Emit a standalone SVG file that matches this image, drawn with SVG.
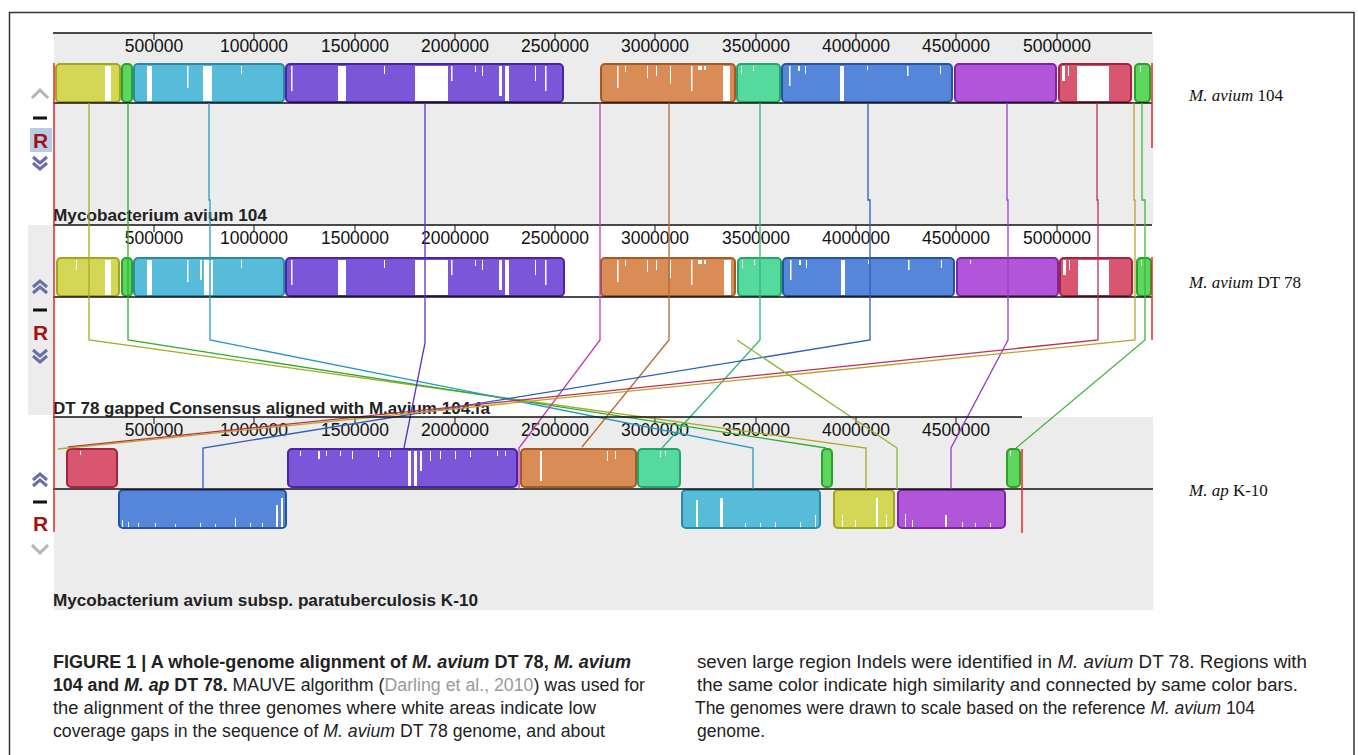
<svg xmlns="http://www.w3.org/2000/svg" width="1358" height="755" viewBox="0 0 1358 755">
<style>
.frame{fill:none;stroke:#333;stroke-width:1.5}
.bg{fill:#ececec}
.axis{stroke:#111;stroke-width:1.5;fill:none}
.tick{stroke:#111;stroke-width:1}
.num{font-family:"Liberation Sans",Arial,sans-serif;font-size:17.5px;fill:#111;text-anchor:middle}
.plabel{font-family:"Liberation Sans",Arial,sans-serif;font-size:17px;font-weight:bold;fill:#222}
.glabel{font-family:"Liberation Serif","Times New Roman",serif;font-size:17px;fill:#111}
.cap{font-family:"Liberation Sans",Arial,sans-serif;font-size:17.5px;fill:#222}
.b{font-weight:bold}
.i{font-style:italic}
.blk{stroke-width:2}
.yel{fill:#d4d656;stroke:#a3a51f}
.grn{fill:#5cd65c;stroke:#27a327}
.cya{fill:#56bcd9;stroke:#2a8aa6}
.pur{fill:#7b56d9;stroke:#4a23a6}
.ora{fill:#d98c56;stroke:#a65a23}
.min{fill:#56d99c;stroke:#23a66a}
.blu{fill:#5686d9;stroke:#2354a6}
.mag{fill:#b256d9;stroke:#8023a6}
.red{fill:#d95670;stroke:#a6233d}
.gap{fill:#fff}
.con{fill:none;stroke-width:1.3}
.redline{stroke:#e8262a;stroke-width:1.5}
.chev{fill:none;stroke-width:3;stroke-linejoin:miter}
.minus{stroke:#111;stroke-width:3}
.R{font-family:"Liberation Sans",Arial,sans-serif;font-size:21px;font-weight:bold;fill:#a01414}
</style>

<!-- frame -->
<path class="frame" d="M9.5,756 V12.5 H1354 V756"/>

<!-- backgrounds -->
<rect class="bg" x="54" y="33" width="1099" height="192"/>
<rect class="bg" x="28" y="225" width="26" height="190"/>
<rect class="bg" x="54" y="417" width="1099" height="193"/>

<!-- Panel 1 -->
<g id="panel1">
  <line class="axis" x1="53" y1="33" x2="1152" y2="33"/>
  <g class="tick">
    <line x1="154" y1="33" x2="154" y2="40"/><line x1="254" y1="33" x2="254" y2="40"/><line x1="355" y1="33" x2="355" y2="40"/><line x1="455" y1="33" x2="455" y2="40"/><line x1="555" y1="33" x2="555" y2="40"/><line x1="655" y1="33" x2="655" y2="40"/><line x1="756" y1="33" x2="756" y2="40"/><line x1="856" y1="33" x2="856" y2="40"/><line x1="956" y1="33" x2="956" y2="40"/><line x1="1057" y1="33" x2="1057" y2="40"/>
  </g>
  <g class="num">
    <text x="154" y="52">500000</text><text x="254" y="52">1000000</text><text x="355" y="52">1500000</text><text x="455" y="52">2000000</text><text x="555" y="52">2500000</text><text x="655" y="52">3000000</text><text x="756" y="52">3500000</text><text x="856" y="52">4000000</text><text x="956" y="52">4500000</text><text x="1057" y="52">5000000</text>
  </g>
  <g id="p1-blocks">
    <rect class="blk yel" x="56" y="64" width="64" height="38" rx="4"/>
    <rect class="blk grn" x="122" y="64" width="10" height="38" rx="4"/>
    <rect class="blk cya" x="134" y="64" width="150" height="38" rx="4"/>
    <rect class="blk pur" x="286" y="64" width="277" height="38" rx="4"/>
    <rect class="blk ora" x="601" y="64" width="134" height="38" rx="4"/>
    <rect class="blk min" x="737" y="64" width="43" height="38" rx="4"/>
    <rect class="blk blu" x="782" y="64" width="170" height="38" rx="4"/>
    <rect class="blk mag" x="955" y="64" width="101" height="38" rx="4"/>
    <rect class="blk red" x="1059" y="64" width="72" height="38" rx="4"/>
    <rect class="blk grn" x="1135" y="64" width="15" height="38" rx="4"/>
  </g>
  <g id="p1-gaps" class="gap">
    <rect x="105" y="66" width="6" height="35"/>
    <rect x="147" y="66" width="5" height="35"/><rect x="187" y="66" width="1.5" height="22"/><rect x="203" y="66" width="9" height="35"/><rect x="241" y="66" width="1" height="8"/>
    <rect x="291" y="66" width="1.5" height="25"/><rect x="338" y="66" width="8" height="35"/><rect x="384" y="66" width="1" height="8"/><rect x="415" y="66" width="33" height="35"/><rect x="451" y="66" width="1.5" height="15"/><rect x="475" y="66" width="1" height="6"/><rect x="482" y="66" width="1" height="10"/><rect x="499" y="66" width="3" height="30"/><rect x="505" y="66" width="4" height="35"/><rect x="535" y="66" width="1" height="15"/><rect x="545" y="66" width="1.5" height="25"/>
    <rect x="617" y="66" width="1.5" height="22"/><rect x="625" y="66" width="1" height="6"/><rect x="647" y="66" width="1" height="12"/><rect x="656" y="66" width="1" height="10"/><rect x="670" y="66" width="1" height="18"/><rect x="691" y="66" width="1.5" height="25"/><rect x="698" y="66" width="4" height="4"/><rect x="704" y="66" width="2" height="4"/><rect x="723" y="66" width="7" height="35"/>
    <rect x="741" y="66" width="1" height="8"/><rect x="753" y="66" width="1" height="5"/>
    <rect x="789" y="66" width="1.5" height="20"/><rect x="798" y="66" width="2" height="5"/><rect x="805" y="66" width="1" height="8"/><rect x="840" y="66" width="4" height="35"/><rect x="867" y="66" width="1" height="4"/><rect x="907" y="66" width="1.5" height="10"/><rect x="940" y="66" width="1" height="8"/>
    <rect x="1062" y="66" width="3" height="15"/><rect x="1068" y="66" width="1" height="10"/><rect x="1077" y="66" width="4" height="35"/><rect x="1081" y="66" width="28" height="35"/>
    <rect x="1140" y="66" width="1" height="6"/>
  </g>
  <line class="axis" x1="53" y1="103" x2="1152" y2="103"/>
  <text class="plabel" x="53" y="221" textLength="214" lengthAdjust="spacingAndGlyphs">Mycobacterium avium 104</text>
</g>

<!-- Panel 2 -->
<g id="panel2">
  <line class="axis" x1="53" y1="225" x2="1152" y2="225"/>
  <g class="tick">
    <line x1="154" y1="225" x2="154" y2="232"/><line x1="254" y1="225" x2="254" y2="232"/><line x1="355" y1="225" x2="355" y2="232"/><line x1="455" y1="225" x2="455" y2="232"/><line x1="555" y1="225" x2="555" y2="232"/><line x1="655" y1="225" x2="655" y2="232"/><line x1="756" y1="225" x2="756" y2="232"/><line x1="856" y1="225" x2="856" y2="232"/><line x1="956" y1="225" x2="956" y2="232"/><line x1="1057" y1="225" x2="1057" y2="232"/>
  </g>
  <g class="num">
    <text x="154" y="244">500000</text><text x="254" y="244">1000000</text><text x="355" y="244">1500000</text><text x="455" y="244">2000000</text><text x="555" y="244">2500000</text><text x="655" y="244">3000000</text><text x="756" y="244">3500000</text><text x="856" y="244">4000000</text><text x="956" y="244">4500000</text><text x="1057" y="244">5000000</text>
  </g>
  <g id="p2-blocks">
    <rect class="blk yel" x="57" y="258" width="62" height="38" rx="4"/>
    <rect class="blk grn" x="122" y="258" width="10" height="38" rx="4"/>
    <rect class="blk cya" x="134" y="258" width="150" height="38" rx="4"/>
    <rect class="blk pur" x="286" y="258" width="278" height="38" rx="4"/>
    <rect class="blk ora" x="601" y="258" width="134" height="38" rx="4"/>
    <rect class="blk min" x="738" y="258" width="43" height="38" rx="4"/>
    <rect class="blk blu" x="783" y="258" width="171" height="38" rx="4"/>
    <rect class="blk mag" x="957" y="258" width="101" height="38" rx="4"/>
    <rect class="blk red" x="1060" y="258" width="72" height="38" rx="4"/>
    <rect class="blk grn" x="1137" y="258" width="14" height="38" rx="4"/>
  </g>
  <g id="p2-gaps" class="gap" transform="translate(0,194)">
    <rect x="105" y="66" width="6" height="35"/><rect x="76" y="66" width="1" height="10"/>
    <rect x="147" y="66" width="5" height="35"/><rect x="187" y="66" width="1.5" height="22"/><rect x="200" y="66" width="2" height="20"/><rect x="204" y="66" width="9" height="35"/><rect x="241" y="66" width="1" height="8"/>
    <rect x="291" y="66" width="1.5" height="25"/><rect x="338" y="66" width="8" height="35"/><rect x="384" y="66" width="1" height="8"/><rect x="415" y="66" width="33" height="35"/><rect x="451" y="66" width="1.5" height="15"/><rect x="475" y="66" width="1" height="6"/><rect x="482" y="66" width="1" height="10"/><rect x="499" y="66" width="3" height="30"/><rect x="505" y="66" width="4" height="35"/><rect x="535" y="66" width="1" height="15"/><rect x="545" y="66" width="1.5" height="25"/>
    <rect x="617" y="66" width="1.5" height="22"/><rect x="625" y="66" width="1" height="6"/><rect x="647" y="66" width="1" height="12"/><rect x="656" y="66" width="1" height="10"/><rect x="670" y="66" width="1" height="18"/><rect x="691" y="66" width="1.5" height="25"/><rect x="698" y="66" width="4" height="4"/><rect x="704" y="66" width="2" height="4"/><rect x="724" y="66" width="7" height="35"/>
    <rect x="742" y="66" width="1" height="8"/><rect x="754" y="66" width="1" height="5"/>
    <rect x="790" y="66" width="1.5" height="20"/><rect x="799" y="66" width="2" height="5"/><rect x="806" y="66" width="1" height="8"/><rect x="841" y="66" width="4" height="35"/><rect x="868" y="66" width="1" height="4"/><rect x="908" y="66" width="1.5" height="10"/><rect x="941" y="66" width="1" height="8"/>
    <rect x="970" y="66" width="1" height="4"/>
    <rect x="1063" y="66" width="3" height="15"/><rect x="1069" y="66" width="1" height="10"/><rect x="1078" y="66" width="4" height="35"/><rect x="1082" y="66" width="27" height="35"/>
    <rect x="1141" y="66" width="1" height="6"/>
  </g>
  <line class="axis" x1="53" y1="297" x2="1152" y2="297"/>
  <text class="plabel" x="53" y="414" textLength="437" lengthAdjust="spacingAndGlyphs">DT 78 gapped Consensus aligned with M.avium 104.fa</text>
</g>

<!-- Panel 3 -->
<g id="panel3">
  <g class="tick">
    <line x1="154" y1="417" x2="154" y2="424"/><line x1="254" y1="417" x2="254" y2="424"/><line x1="355" y1="417" x2="355" y2="424"/><line x1="455" y1="417" x2="455" y2="424"/><line x1="555" y1="417" x2="555" y2="424"/><line x1="655" y1="417" x2="655" y2="424"/><line x1="756" y1="417" x2="756" y2="424"/><line x1="856" y1="417" x2="856" y2="424"/><line x1="956" y1="417" x2="956" y2="424"/>
  </g>
  <g class="num">
    <text x="154" y="436">500000</text><text x="254" y="436">1000000</text><text x="355" y="436">1500000</text><text x="455" y="436">2000000</text><text x="555" y="436">2500000</text><text x="655" y="436">3000000</text><text x="756" y="436">3500000</text><text x="856" y="436">4000000</text><text x="956" y="436">4500000</text>
  </g>
  <g id="p3-blocks">
    <rect class="blk red" x="67" y="449" width="50" height="38" rx="4"/>
    <rect class="blk blu" x="119" y="490" width="167" height="38" rx="4"/>
    <rect class="blk pur" x="288" y="449" width="229" height="38" rx="4"/>
    <rect class="blk ora" x="521" y="449" width="115" height="38" rx="4"/>
    <rect class="blk min" x="638" y="449" width="42" height="38" rx="4"/>
    <rect class="blk cya" x="682" y="490" width="138" height="38" rx="4"/>
    <rect class="blk grn" x="822" y="449" width="10" height="38" rx="4"/>
    <rect class="blk yel" x="834" y="490" width="60" height="38" rx="4"/>
    <rect class="blk mag" x="898" y="490" width="107" height="38" rx="4"/>
    <rect class="blk grn" x="1007" y="449" width="13" height="38" rx="4"/>
  </g>
  <g id="p3-gaps" class="gap">
    <rect x="80" y="451" width="1" height="4"/>
    <rect x="300" y="451" width="1" height="5"/><rect x="318" y="451" width="2" height="8"/><rect x="326" y="451" width="1" height="5"/><rect x="340" y="451" width="1" height="5"/><rect x="352" y="451" width="1" height="8"/><rect x="378" y="451" width="1" height="6"/><rect x="390" y="451" width="1" height="6"/><rect x="408" y="451" width="3" height="35"/><rect x="414" y="451" width="3" height="35"/><rect x="420" y="451" width="2" height="20"/><rect x="430" y="451" width="1" height="10"/><rect x="440" y="451" width="1" height="8"/><rect x="455" y="451" width="1" height="8"/><rect x="470" y="451" width="1" height="6"/><rect x="497" y="451" width="1" height="5"/><rect x="505" y="451" width="1" height="5"/>
    <rect x="540" y="451" width="2" height="30"/><rect x="607" y="451" width="1" height="10"/><rect x="615" y="451" width="1" height="8"/>
    <rect x="660" y="451" width="1" height="6"/><rect x="665" y="451" width="1" height="5"/>
    <rect x="1010" y="451" width="1" height="5"/>
    <rect x="122" y="520" width="1" height="7"/><rect x="128" y="522" width="1" height="5"/><rect x="138" y="523" width="1" height="4"/><rect x="155" y="523" width="1" height="4"/><rect x="175" y="524" width="1" height="3"/><rect x="200" y="523" width="1" height="4"/><rect x="215" y="524" width="1" height="3"/><rect x="235" y="518" width="1" height="9"/><rect x="250" y="523" width="1" height="4"/><rect x="262" y="523" width="1" height="4"/><rect x="276" y="505" width="2" height="22"/><rect x="281" y="498" width="2" height="29"/>
    <rect x="696" y="500" width="2" height="27"/><rect x="720" y="498" width="3" height="29"/><rect x="745" y="523" width="1" height="4"/><rect x="760" y="523" width="1" height="4"/><rect x="775" y="522" width="1" height="5"/><rect x="800" y="522" width="1" height="5"/><rect x="815" y="515" width="1" height="12"/>
    <rect x="842" y="515" width="1" height="12"/><rect x="855" y="520" width="1" height="7"/><rect x="876" y="498" width="2" height="29"/><rect x="886" y="515" width="1" height="12"/>
    <rect x="905" y="514" width="1" height="13"/><rect x="912" y="520" width="1" height="7"/><rect x="945" y="515" width="2" height="12"/><rect x="962" y="522" width="1" height="5"/><rect x="975" y="523" width="1" height="4"/><rect x="990" y="523" width="1" height="4"/>
  </g>
  <line class="axis" x1="53" y1="489" x2="1153" y2="489"/>
  <text class="plabel" x="53" y="606" textLength="425" lengthAdjust="spacingAndGlyphs">Mycobacterium avium subsp. paratuberculosis K-10</text>
</g>

<!-- connectors -->
<g id="connectors" class="con">
  <polyline stroke="#a8aa2a" points="89,103 89,340 866,448 866,489"/>
  <polyline stroke="#2fae2f" points="128,103 128,340 826,448"/>
  <polyline stroke="#2a9ac0" points="209,103 209,200 210,200 210,340 753,448 753,489"/>
  <polyline stroke="#5a30c8" points="425,103 425,343 404,448"/>
  <polyline stroke="#c33cae" points="600,103 600,340 519,448 519,490"/>
  <polyline stroke="#b8682e" points="669,103 669,340 582,447"/>
  <polyline stroke="#2eb878" points="760,103 760,340 662,448"/>
  <polyline stroke="#2e5ec0" points="868,103 868,200 870,200 870,340 203,448 203,489"/>
  <polyline stroke="#9a3cc8" points="1007,103 1007,200 1008,200 1008,340 951,448 951,489"/>
  <polyline stroke="#c02e50" points="1097,103 1097,200 1098,200 1098,340 68,447"/>
  <polyline stroke="#b8a32e" points="1134,103 1134,200 1135,200 1135,340 58,449"/>
  <polyline stroke="#3cb83c" points="1142,103 1142,200 1145,200 1145,340 1016,448"/>
  <polyline stroke="#8ab82e" points="737,340 897,448 897,489"/>
</g>

<!-- panel 3 top axis drawn over the connectors -->
<line class="axis" x1="53" y1="417" x2="1022" y2="417"/>

<!-- cursor lines -->
<g id="cursors" class="redline">
  <line x1="54" y1="63" x2="54" y2="532"/>
  <line x1="1152" y1="63" x2="1152" y2="148"/>
  <line x1="1152" y1="257" x2="1152" y2="340"/>
  <line x1="1022" y1="449" x2="1022" y2="533"/>
</g>

<!-- controls -->
<g id="controls1">
  <polyline class="chev" stroke="#b4b4b4" points="32,98 40,90 48,98"/>
  <line class="minus" x1="33" y1="118" x2="47" y2="118"/>
  <rect x="30" y="128" width="22" height="24" fill="#b8cce6"/>
  <text class="R" x="33" y="148">R</text>
  <polyline class="chev" stroke="#6c6ca8" stroke-width="2" points="33,157 40,163 47,157"/>
  <polyline class="chev" stroke="#6c6ca8" stroke-width="2" points="33,163 40,169 47,163"/>
</g>
<g id="controls2">
  <polyline class="chev" stroke="#6c6ca8" stroke-width="2" points="33,287 40,281 47,287"/>
  <polyline class="chev" stroke="#6c6ca8" stroke-width="2" points="33,293 40,287 47,293"/>
  <line class="minus" x1="33" y1="310" x2="47" y2="310"/>
  <text class="R" x="33" y="340">R</text>
  <polyline class="chev" stroke="#6c6ca8" stroke-width="2" points="33,350 40,356 47,350"/>
  <polyline class="chev" stroke="#6c6ca8" stroke-width="2" points="33,356 40,362 47,356"/>
</g>
<g id="controls3">
  <polyline class="chev" stroke="#6c6ca8" stroke-width="2" points="33,480 40,474 47,480"/>
  <polyline class="chev" stroke="#6c6ca8" stroke-width="2" points="33,486 40,480 47,486"/>
  <line class="minus" x1="33" y1="502" x2="47" y2="502"/>
  <text class="R" x="33" y="531">R</text>
  <polyline class="chev" stroke="#b4b4b4" points="32,545 40,553 48,545"/>
</g>

<!-- genome labels -->
<g id="labels">
  <text class="glabel" x="1189" y="101"><tspan class="i">M. avium</tspan> 104</text>
  <text class="glabel" x="1189" y="288"><tspan class="i">M. avium</tspan> DT 78</text>
  <text class="glabel" x="1189" y="496"><tspan class="i">M. ap</tspan> K-10</text>
</g>

<!-- caption -->
<g id="caption">
  <text class="cap b" x="53" y="668" textLength="578" lengthAdjust="spacingAndGlyphs">FIGURE 1 | A whole-genome alignment of <tspan class="i">M. avium</tspan> DT 78, <tspan class="i">M. avium</tspan></text>
  <text class="cap" x="53" y="691" textLength="592" lengthAdjust="spacingAndGlyphs"><tspan class="b">104 and <tspan class="i">M. ap</tspan> DT 78.</tspan> MAUVE algorithm (<tspan fill="#9a9a9a">Darling et al., 2010</tspan>) was used for</text>
  <text class="cap" x="53" y="714" textLength="543" lengthAdjust="spacingAndGlyphs">the alignment of the three genomes where white areas indicate low</text>
  <text class="cap" x="53" y="737" textLength="552" lengthAdjust="spacingAndGlyphs">coverage gaps in the sequence of <tspan class="i">M. avium</tspan> DT 78 genome, and about</text>
  <text class="cap" x="697" y="668" textLength="610" lengthAdjust="spacingAndGlyphs">seven large region Indels were identified in <tspan class="i">M. avium</tspan> DT 78. Regions with</text>
  <text class="cap" x="697" y="691" textLength="601" lengthAdjust="spacingAndGlyphs">the same color indicate high similarity and connected by same color bars.</text>
  <text class="cap" x="695" y="714" textLength="560" lengthAdjust="spacingAndGlyphs">The genomes were drawn to scale based on the reference <tspan class="i">M. avium</tspan> 104</text>
  <text class="cap" x="697" y="737">genome.</text>
</g>
</svg>
